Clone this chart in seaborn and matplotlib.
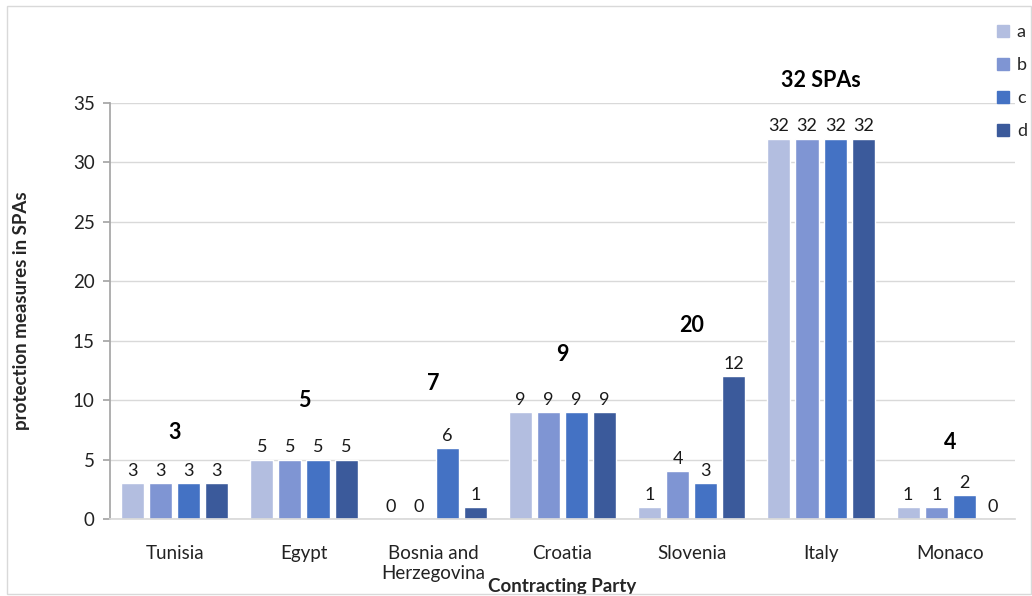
import matplotlib
matplotlib.use("Agg")
import matplotlib.pyplot as plt
import seaborn as sns
import pandas as pd
from matplotlib.patches import Rectangle
from matplotlib.lines import Line2D

# ---- data ----
countries = ["Tunisia", "Egypt", "Bosnia and\nHerzegovina", "Croatia", "Slovenia", "Italy", "Monaco"]
series_names = ["a", "b", "c", "d"]
vals_a = [3, 5, 0, 9, 1, 32, 1]
vals_b = [3, 5, 0, 9, 4, 32, 1]
vals_c = [3, 5, 6, 9, 3, 32, 2]
vals_d = [3, 5, 1, 9, 12, 32, 0]
total_spas = ["3", "5", "7", "9", "20", "32 SPAs", "4"]

# ---- layout / style (not data) ----
total_label_y = [7.3, 10.0, 11.4, 13.8, 16.3, 36.9, 6.4]
colors = ["#b3bee0", "#7f95d3", "#4472c4", "#3b5a9b"]

df = pd.DataFrame({
    "country": countries * 4,
    "series": sum([[s] * len(countries) for s in series_names], []),
    "value": vals_a + vals_b + vals_c + vals_d,
})

sns.set_theme(style="white")
plt.rcParams["font.family"] = ["Lato", "DejaVu Sans"]

fig = plt.figure(figsize=(10.32, 5.96), dpi=100)
ax = fig.add_axes([110 / 1032, 1 - 519 / 596, 905 / 1032, 416 / 596])

sns.barplot(data=df, x="country", y="value", hue="series", order=countries,
            hue_order=series_names, palette=colors, width=0.87, gap=0.18,
            ax=ax, legend=False, saturation=1)

for cont in ax.containers:
    ax.bar_label(cont, padding=3, fontsize=13, color="#1a1a1a")

for i, (txt, yy) in enumerate(zip(total_spas, total_label_y)):
    ax.text(i, yy, txt, ha="center", va="center", fontsize=15.5, fontweight="bold",
            color="black", clip_on=False)

ax.set_ylim(0, 35)
ax.set_yticks(range(0, 36, 5))
ax.set_xlim(-0.5, len(countries) - 0.5)
ax.yaxis.grid(True, color="#d9d9d9", linewidth=1)
ax.set_axisbelow(True)
for s in ["top", "right"]:
    ax.spines[s].set_visible(False)
ax.spines["left"].set_color("#a6a6a6")
ax.spines["bottom"].set_color("#d9d9d9")
ax.tick_params(axis="y", left=True, length=5, color="#a6a6a6", labelsize=13.5, pad=6, labelcolor="#222222")
ax.tick_params(axis="x", bottom=False, labelsize=13.5, pad=13, labelcolor="#222222")

ax.set_ylabel("protection measures in SPAs", fontsize=13.5, fontweight="bold")
ax.yaxis.set_label_coords(-0.088, 0.5)
ax.set_xlabel("Contracting Party", fontsize=13.5, fontweight="bold")
ax.xaxis.set_label_coords(0.5, -0.142)

handles = [Line2D([0], [0], marker="s", linestyle="none", markersize=8,
                  markerfacecolor=c, markeredgecolor=c) for c in colors]
fig.legend(handles, series_names, loc="upper left",
           bbox_to_anchor=(996 / 1032, 1 - 24 / 596), frameon=False,
           fontsize=13, labelspacing=0.95, handlelength=0.8, handletextpad=0.35,
           borderaxespad=0, borderpad=0)

fig.patches.append(Rectangle((7 / 1032, 2 / 596), 1 - 8 / 1032, 1 - 8 / 596,
                             transform=fig.transFigure, fill=False,
                             edgecolor="#d9d9d9", linewidth=1))

fig.savefig("out.png", dpi=100)
